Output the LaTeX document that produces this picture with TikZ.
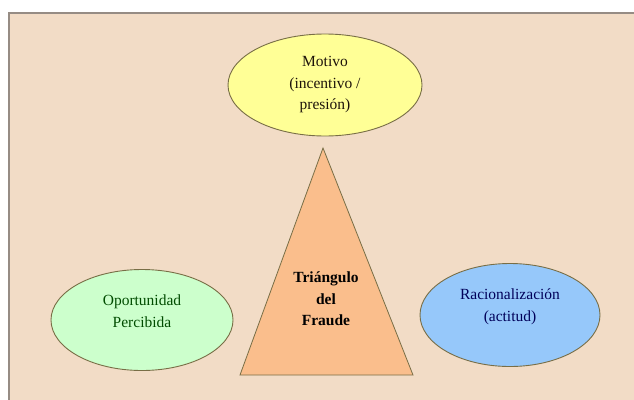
\documentclass[tikz,border=0pt]{standalone}
\usepackage{fontspec}
\setmainfont{Liberation Serif}
\usetikzlibrary{shapes.geometric}
\definecolor{fondo}{RGB}{242,220,198}
\definecolor{marco}{RGB}{150,140,132}
\definecolor{amarillo}{RGB}{255,255,150}
\definecolor{verde}{RGB}{204,255,204}
\definecolor{azul}{RGB}{150,200,250}
\definecolor{naranja}{RGB}{250,190,140}
\definecolor{borde}{RGB}{120,110,70}
\newcommand\txt{\fontsize{15.5}{21.5}\selectfont}

\begin{document}
\begin{tikzpicture}[x=1pt,y=-1pt,
  elip/.style={ellipse,draw=borde,line width=0.9pt,inner sep=0pt},
  rotulo/.style={align=center,font=\txt},
  tri/.style={fill=naranja,draw=borde,line width=0.8pt,line join=miter}]
\useasboundingbox (0,0) rectangle (634,399);
\fill[white] (0,0) rectangle (634,399);
\filldraw[fill=fondo,draw=marco,line width=1.6pt] (9,13) rectangle (645,410);
% vertices
\node[elip,fill=amarillo,minimum width=194pt,minimum height=102pt] (motivo) at (325,85) {};
\node[rotulo,text=black!85!brown] (tmotivo) at (motivo) {Motivo\\(incentivo /\\presión)};
\node[elip,fill=verde,minimum width=182pt,minimum height=101pt] (oportunidad) at (142,320) {};
\node[rotulo,text=green!30!black] (toportunidad) at ([yshift=9pt]oportunidad) {Oportunidad\\Percibida};
\node[elip,fill=azul,minimum width=180pt,minimum height=103pt] (racional) at (510,315) {};
\node[rotulo,text=blue!35!black] (tracional) at ([yshift=8pt]racional) {Racionalización\\(actitud)};
% triangulo
\filldraw[tri] (323,148)--(413,375)--(240,375)--cycle;
\node[rotulo,font=\txt\bfseries] (fraude) at (326,299) {Triángulo\\del\\Fraude};
\end{tikzpicture}
\end{document}
